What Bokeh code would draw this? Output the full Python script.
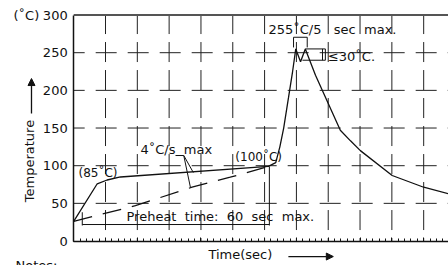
from bokeh.plotting import figure
from bokeh.models import (Range1d, SingleIntervalTicker, FixedTicker, Label, Arrow, NormalHead,
                          LinearAxis)
from bokeh.embed import file_html
from bokeh.resources import INLINE

# ---- data (time in s, temperature in deg C) ----
y_ticks = [0, 50, 100, 150, 200, 250, 300]
y_grid = [50, 100, 150, 200, 250]
x_grid = [10, 20, 30, 40, 50, 60, 70, 80, 90, 100, 110]
x_ticks = [0] + x_grid
x_step = 10
t_max = 117.8

solid_t = [0, 7.4, 10.5, 14.7, 61.2, 63.5, 64.8, 66.0, 67.5, 68.8, 69.8, 71.3, 72.8,
           76.0, 83.8, 87.0, 90.1, 100.1, 110.0, 117.8]
solid_T = [26, 76, 81, 85, 99, 104, 125, 150, 190, 225, 255, 238, 255,
           220, 147, 133, 120, 87, 71.4, 62.7]

dash_t = [0, 19.4, 37.2, 49.2, 61.2]
dash_T = [26, 47, 71.4, 84.7, 99]

# annotation helper geometry (dimension / leader lines)
preheat_t = [2.7, 61.5]
preheat_T = 21.9
peak_bracket_t = [69.1, 69.1, 73.4, 73.4]
peak_bracket_T = [257, 270.5, 270.5, 257]
leader1_t = [32.0, 34.6, 37.6]
leader1_T = [113.5, 113.5, 90.9]
leader2_t = [34.6, 36.7]
leader2_T = [113.5, 71.0]

FONT = "DejaVu Sans"
INK = "#111111"
GRID = "#222222"
SP = "\u00a0"

# frame covers the whole canvas; axes are pinned at t=0 / T=0
p = figure(width=448, height=265, output_backend="svg", toolbar_location=None,
           x_range=Range1d(-23.0, t_max), y_range=Range1d(-32.5, 319.3),
           x_axis_location=None, y_axis_location=None,
           min_border=0)
p.outline_line_color = None
p.background_fill_color = "white"
p.border_fill_color = "white"
p.grid.visible = False

# dashed CAD-like grid
p.segment(x0=x_grid, y0=[y_ticks[-1]] * len(x_grid), x1=x_grid, y1=[y_ticks[0]] * len(x_grid),
          line_color=GRID, line_width=1, line_dash="20 8", line_dash_offset=1)
p.segment(x0=[0] * len(y_grid), y0=y_grid, x1=[t_max] * len(y_grid), y1=y_grid,
          line_color=GRID, line_width=1, line_dash="21 11", line_dash_offset=10)
# top border
p.line([0, t_max], [y_ticks[-1], y_ticks[-1]], line_color="#555555", line_width=2)

xaxis = LinearAxis(fixed_location=0, bounds=(0, t_max),
                   ticker=SingleIntervalTicker(interval=x_step, num_minor_ticks=5),
                   major_tick_in=4, major_tick_out=0, minor_tick_in=3, minor_tick_out=0,
                   major_label_overrides={t: "" for t in x_ticks}, major_label_standoff=0,
                   axis_line_width=1.5, axis_line_color=INK,
                   major_tick_line_color=INK, minor_tick_line_color=INK)
yaxis = LinearAxis(fixed_location=0, bounds=(0, y_ticks[-1]),
                   ticker=FixedTicker(ticks=y_ticks),
                   major_tick_in=0, major_tick_out=0, minor_tick_line_color=None,
                   major_label_standoff=6, major_label_text_font=FONT,
                   major_label_text_font_size="13px", major_label_text_color=INK,
                   axis_line_width=1.5, axis_line_color=INK)
p.add_layout(xaxis, "below")
p.add_layout(yaxis, "left")

# profiles
p.line(solid_t, solid_T, line_color=INK, line_width=1.3)
p.line(dash_t, dash_T, line_color=INK, line_width=1.3, line_dash="19 11")

# dimension / leader lines
p.line(preheat_t, [preheat_T, preheat_T], line_color=INK, line_width=1)
p.line([preheat_t[0], preheat_t[0]], [20.6, 38.2], line_color=INK, line_width=1)
p.line([preheat_t[1], preheat_t[1]], [20.6, 99], line_color=INK, line_width=1)
p.line(peak_bracket_t, peak_bracket_T, line_color=INK, line_width=1)
p.line([72.8, 79.1], [255, 255], line_color=INK, line_width=1)
p.line([71.9, 79.1], [240, 240], line_color=INK, line_width=1)
p.line([78.2, 78.2], [240, 255], line_color=INK, line_width=1)
p.line([79.1, 79.1], [240, 255], line_color=INK, line_width=1)
p.line(leader1_t, leader1_T, line_color=INK, line_width=1)
p.line(leader2_t, leader2_T, line_color=INK, line_width=1)

def lab(x, y, text, size="13px", align="left", baseline="middle", angle=0):
    p.add_layout(Label(x=x, y=y, text=text, text_font=FONT, text_font_size=size,
                       text_color=INK, text_align=align, text_baseline=baseline, angle=angle))

lab(1.5, 90.9, "(85˚C)", size="12px")
lab(21.0, 121.5, "4˚C/s" + SP * 2 + "max")
lab(50.8, 112.2, "(100˚C)", size="12px")
lab(16.6, 32.5, SP.join(["Preheat", "", "time:", "", "60", "", "sec", "", "max."]))
lab(61.2, 280.8, "255˚C/5" + SP * 3 + "sec" + SP * 2 + "max.")
lab(79.9, 245, "≤30˚C.")
lab(-18.9, 299.4, "(˚C)")
lab(42.35, -17.9, "Time(sec)")
lab(-13.73, 106.2, "Temperature", align="center", angle=1.5707963)
lab(-18.28, -22.6, "Notes:", baseline="top")

p.add_layout(Arrow(x_start=-13.26, y_start=169.3, x_end=-13.26, y_end=215.7,
                   line_color=INK, line_width=1.3,
                   end=NormalHead(size=7, fill_color=INK, line_color=INK)))
p.add_layout(Arrow(x_start=67.48, y_start=-20.6, x_end=81.6, y_end=-20.6,
                   line_color=INK, line_width=1.3,
                   end=NormalHead(size=7, fill_color=INK, line_color=INK)))

open("out.html", "w").write(file_html(p, INLINE))
